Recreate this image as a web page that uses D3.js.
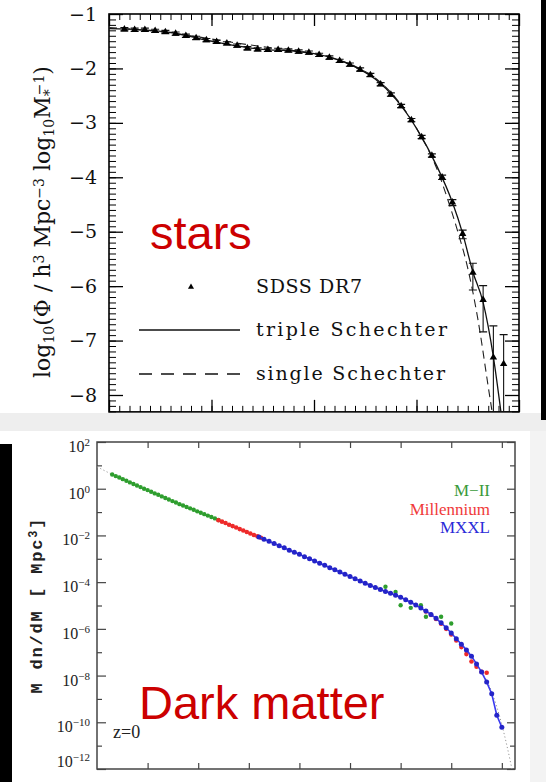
<!DOCTYPE html>
<html>
<head>
<meta charset="utf-8">
<script src="https://cdn.jsdelivr.net/npm/d3@7"></script>
<style>
  body { margin: 0; background: #fff; }
  svg { display: block; }
</style>
</head>
<body>
<svg id="chart" width="546" height="782"></svg>
<script>
// ---------- top panel: stellar mass function (log10 M*, log10 Phi)
let sdssMass = [8.15, 8.25, 8.35, 8.45, 8.55, 8.65, 8.75, 8.85, 8.95, 9.05, 9.15, 9.25, 9.35, 9.45, 9.55, 9.65, 9.75, 9.85, 9.95,
  10.05, 10.15, 10.25, 10.35, 10.45, 10.55, 10.65, 10.75, 10.85, 10.95, 11.05, 11.15, 11.25, 11.35, 11.45, 11.55, 11.65, 11.75, 11.85]
let sdssPhi = [-1.28, -1.29, -1.29, -1.31, -1.33, -1.36, -1.40, -1.44, -1.48, -1.51, -1.54, -1.58, -1.63, -1.65, -1.66, -1.66, -1.67, -1.69, -1.71,
  -1.75, -1.80, -1.86, -1.93, -2.02, -2.12, -2.29, -2.48, -2.69, -2.95, -3.26, -3.60, -4.00, -4.46, -5.04, -5.75, -6.25, -7.31, -7.43]
let sdssErrUp = [0.03, 0.03, 0.03, 0.03, 0.03, 0.03, 0.03, 0.03, 0.03, 0.03, 0.03, 0.03, 0.03, 0.03, 0.03, 0.03, 0.03, 0.03, 0.03,
  0.03, 0.03, 0.03, 0.03, 0.03, 0.03, 0.03, 0.03, 0.03, 0.03, 0.03, 0.03, 0.04, 0.05, 0.07, 0.17, 0.26, 0.58, 0.54]
let sdssErrDn = [0.03, 0.03, 0.03, 0.03, 0.03, 0.03, 0.03, 0.03, 0.03, 0.03, 0.03, 0.03, 0.03, 0.03, 0.03, 0.03, 0.03, 0.03, 0.03,
  0.03, 0.03, 0.03, 0.03, 0.03, 0.03, 0.03, 0.03, 0.03, 0.03, 0.03, 0.03, 0.04, 0.06, 0.09, 0.32, 0.59, 3.0, 3.0]

let tripleMass = [8.0, 8.3, 8.6, 8.9, 9.2, 9.5, 9.8, 10.0, 10.2, 10.4, 10.6, 10.8, 11.0, 11.2, 11.35, 11.45, 11.55, 11.65, 11.75, 11.83, 11.9]
let triplePhi = [-1.27, -1.29, -1.34, -1.46, -1.57, -1.65, -1.68, -1.73, -1.82, -1.97, -2.20, -2.57, -3.10, -3.80, -4.46, -5.03, -5.74, -6.30, -7.30, -8.40, -9.4]

let singleMass = [8.0, 8.3, 8.6, 8.9, 9.2, 9.5, 9.8, 10.0, 10.2, 10.4, 10.6, 10.8, 11.0, 11.2, 11.3, 11.4, 11.5, 11.6, 11.7, 11.75, 11.8]
let singlePhi = [-1.25, -1.29, -1.35, -1.43, -1.52, -1.60, -1.67, -1.73, -1.82, -1.96, -2.18, -2.55, -3.10, -3.85, -4.38, -4.98, -5.67, -6.62, -7.85, -8.47, -9.2]

let starYTicks = [-1, -2, -3, -4, -5, -6, -7, -8]
let starXTicks = [8, 9, 10, 11, 12]

// ---------- bottom panel: halo mass function (log10 M, log10 M dn/dM)
let m2Mass = [7.30, 7.37, 7.44, 7.51, 7.58, 7.65, 7.72, 7.79, 7.86, 7.93, 8.00, 8.07, 8.14, 8.21, 8.28, 8.35,
  8.42, 8.49, 8.56, 8.63, 8.70, 8.77, 8.84, 8.91, 8.98, 9.05, 9.12, 9.19, 9.26, 9.33, 9.40,
  12.7, 12.9, 13.0, 13.2, 13.4, 13.5, 13.8, 14.0]
let m2Val = [0.61, 0.54, 0.48, 0.41, 0.34, 0.27, 0.20, 0.14, 0.07, 0.00, -0.06, -0.13, -0.20, -0.26, -0.33, -0.40,
  -0.46, -0.53, -0.59, -0.66, -0.72, -0.78, -0.84, -0.90, -0.97, -1.03, -1.09, -1.15, -1.21, -1.27, -1.34,
  -4.20, -4.42, -4.99, -5.10, -4.99, -5.48, -5.48, -5.77]

let milMass = [9.40, 9.47, 9.54, 9.61, 9.68, 9.75, 9.82, 9.89, 9.96, 10.03, 10.10, 10.17, 10.24,
  13.5, 13.6, 13.7, 13.8, 13.9, 14.0, 14.1, 14.2, 14.3, 14.4, 14.5, 14.6, 14.7]
let milVal = [-1.35, -1.41, -1.47, -1.54, -1.60, -1.66, -1.73, -1.79, -1.85, -1.92, -1.98, -2.04, -2.10,
  -5.26, -5.40, -5.58, -5.78, -6.00, -6.24, -6.50, -6.78, -7.08, -7.40, -7.62, -7.84, -7.88]

let mxxlMass = [10.2, 10.3, 10.4, 10.5, 10.6, 10.7, 10.8, 10.9, 11.0, 11.1, 11.2, 11.3, 11.4, 11.5, 11.6, 11.7, 11.8, 11.9,
  12.0, 12.1, 12.2, 12.3, 12.4, 12.5, 12.6, 12.7, 12.8, 12.9, 13.0, 13.1, 13.2, 13.3, 13.4, 13.5, 13.6, 13.7, 13.8, 13.9,
  14.0, 14.1, 14.2, 14.3, 14.4, 14.5, 14.6, 14.7, 14.8, 14.9, 15.0]
let mxxlVal = [-2.07, -2.16, -2.25, -2.35, -2.44, -2.53, -2.63, -2.72, -2.81, -2.91, -3.00, -3.09, -3.19, -3.28, -3.38, -3.47, -3.57, -3.66,
  -3.76, -3.86, -3.95, -4.05, -4.14, -4.23, -4.32, -4.40, -4.48, -4.56, -4.65, -4.75, -4.86, -4.98, -5.11, -5.24, -5.38, -5.55, -5.74, -5.95,
  -6.18, -6.42, -6.66, -6.90, -7.17, -7.50, -7.85, -8.28, -8.78, -9.70, -10.21]

let modelMass = [7.0, 7.3, 8.0, 9.0, 10.0, 11.0, 12.0, 13.0, 14.0, 14.5, 14.8, 15.0, 15.1, 15.2, 15.26]
let modelVal = [0.94, 0.61, -0.06, -0.97, -1.88, -2.81, -3.76, -4.65, -6.18, -7.50, -8.70, -10.10, -11.0, -12.0, -12.6]

let haloYTicks = [2, 1, 0, -1, -2, -3, -4, -5, -6, -7, -8, -9, -10, -11, -12]
let haloXTicks = [8, 9, 10, 11, 12, 13, 14, 15]

let legendNames = ["M\u2212II", "Millennium", "MXXL"]
let legendColors = ["#3a9a3a", "#f03a3a", "#2a2ad8"]

let zip = (a, b) => a.map((d, i) => [d, b[i]])

let svg = d3.select("#chart")

function drawBackground() {
  svg.append("rect").attr("width", 546).attr("height", 782).attr("fill", "#fff")
  svg.append("rect").attr("x", 0).attr("y", 413).attr("width", 546).attr("height", 18).attr("fill", "#eeeeee")
  svg.append("rect").attr("x", 530).attr("y", 431).attr("width", 16).attr("height", 351).attr("fill", "#f3f3f3")
  svg.append("rect").attr("x", 541).attr("y", 0).attr("width", 5).attr("height", 420).attr("fill", "#000")
  svg.append("rect").attr("x", 0).attr("y", 444).attr("width", 12).attr("height", 338).attr("fill", "#000")
}

function ticks(axisFn, scale, values, size, x, y, color, width) {
  let g = svg.append("g").attr("transform", `translate(${x},${y})`)
    .call(axisFn(scale).tickValues(values).tickSize(-size).tickFormat(""))
  g.select(".domain").remove()
  g.selectAll("line").attr("stroke", color).attr("stroke-width", width)
  return g
}

function drawStars() {
  let x = d3.scaleLinear().domain([8, 12]).range([109, 519])
  let y = d3.scaleLinear().domain([-1, -8]).range([14, 395])
  let left = x(8), right = x(12), top = y(-1), bottom = y(-8.31)

  svg.append("clipPath").attr("id", "clipTop").append("rect")
    .attr("x", left).attr("y", top).attr("width", right - left).attr("height", bottom - top)

  // minor + major ticks on all four sides
  let minorY = d3.range(-83, -9).map(d => d / 10)
  let minorX = d3.range(80, 121).map(d => d / 10)
  ticks(d3.axisLeft, y, minorY, 7, left, 0, "#000", 1)
  ticks(d3.axisRight, y, minorY, 7, right, 0, "#000", 1)
  ticks(d3.axisLeft, y, starYTicks, 14, left, 0, "#000", 1.3)
  ticks(d3.axisRight, y, starYTicks, 14, right, 0, "#000", 1.3)
  ticks(d3.axisTop, x, minorX, 6, 0, top, "#000", 1)
  ticks(d3.axisBottom, x, minorX, 6, 0, bottom, "#000", 1)
  ticks(d3.axisTop, x, starXTicks, 12, 0, top, "#000", 1.3)
  ticks(d3.axisBottom, x, starXTicks, 12, 0, bottom, "#000", 1.3)

  let labels = svg.append("g").attr("transform", `translate(${left},0)`)
    .call(d3.axisLeft(y).tickValues(starYTicks).tickSize(0).tickPadding(12)
      .tickFormat(d => "\u2212" + Math.abs(d)))
  labels.select(".domain").remove()
  labels.selectAll("text").attr("font-family", "DejaVu Serif").attr("font-size", 19).attr("fill", "#111")

  svg.append("rect").attr("x", left).attr("y", top).attr("width", right - left).attr("height", bottom - top)
    .attr("fill", "none").attr("stroke", "#000").attr("stroke-width", 1.6)

  let plot = svg.append("g").attr("clip-path", "url(#clipTop)")
  let line = d3.line().x(d => x(d[0])).y(d => y(d[1])).curve(d3.curveMonotoneX)

  plot.append("path").datum(zip(singleMass, singlePhi)).attr("d", line)
    .attr("fill", "none").attr("stroke", "#222").attr("stroke-width", 1.1).attr("stroke-dasharray", "8,5")
  plot.append("path").datum(zip(tripleMass, triplePhi)).attr("d", line)
    .attr("fill", "none").attr("stroke", "#111").attr("stroke-width", 1.3)

  let pts = sdssMass.map((m, i) => ({ m, v: sdssPhi[i], up: sdssErrUp[i], dn: sdssErrDn[i] }))
  let err = plot.selectAll(".err").data(pts).enter().append("g").attr("class", "err")
    .attr("stroke", "#111").attr("stroke-width", 1.1)
  err.append("line").attr("x1", d => x(d.m)).attr("x2", d => x(d.m))
    .attr("y1", d => y(d.v + d.up)).attr("y2", d => y(d.v - d.dn))
  err.append("line").attr("x1", d => x(d.m) - 4).attr("x2", d => x(d.m) + 4)
    .attr("y1", d => y(d.v + d.up)).attr("y2", d => y(d.v + d.up))
  err.append("line").attr("x1", d => x(d.m) - 4).attr("x2", d => x(d.m) + 4)
    .attr("y1", d => y(d.v - d.dn)).attr("y2", d => y(d.v - d.dn))

  let tri = d3.symbol(d3.symbolTriangle).size(24)
  plot.selectAll(".tri").data(pts).enter().append("path")
    .attr("d", tri).attr("transform", d => `translate(${x(d.m)},${y(d.v)})`).attr("fill", "#000")

  // legend
  let serif = "DejaVu Serif"
  svg.append("path").attr("d", d3.symbol(d3.symbolTriangle).size(16))
    .attr("transform", "translate(191,287)").attr("fill", "#000")
  svg.append("text").attr("x", 256).attr("y", 293).attr("font-family", serif).attr("font-size", 19)
    .attr("textLength", 106).attr("lengthAdjust", "spacing").attr("fill", "#111").text("SDSS DR7")
  svg.append("line").attr("x1", 139).attr("x2", 240).attr("y1", 330).attr("y2", 330)
    .attr("stroke", "#111").attr("stroke-width", 1.3)
  svg.append("text").attr("x", 256).attr("y", 336).attr("font-family", serif).attr("font-size", 19)
    .attr("textLength", 191).attr("lengthAdjust", "spacing").attr("fill", "#111").text("triple Schechter")
  svg.append("line").attr("x1", 139).attr("x2", 240).attr("y1", 374).attr("y2", 374)
    .attr("stroke", "#111").attr("stroke-width", 1.3).attr("stroke-dasharray", "13,9")
  svg.append("text").attr("x", 256).attr("y", 380).attr("font-family", serif).attr("font-size", 19)
    .attr("textLength", 189).attr("lengthAdjust", "spacing").attr("fill", "#111").text("single Schechter")

  // y title
  let title = svg.append("text").attr("transform", "translate(50,222) rotate(-90)")
    .attr("text-anchor", "middle").attr("font-family", serif).attr("font-size", 22).attr("fill", "#111")
  let parts = [["log", 0], ["10", -1], ["(\u03A6 / h", 0], ["3", 1], [" Mpc", 0], ["\u22123", 1],
    [" log", 0], ["10", -1], ["M", 0], ["*", -1], ["\u22121", 2], [")", 0]]
  parts.forEach(([t, k]) => {
    let s = title.append("tspan").text(t)
    if (k === -1) s.attr("font-size", 14).attr("baseline-shift", "-30%")
    if (k === 1) s.attr("font-size", 14).attr("baseline-shift", "45%")
    if (k === 2) s.attr("font-size", 14).attr("baseline-shift", "45%").attr("dx", -6)
  })

  svg.append("text").attr("x", 150).attr("y", 249).attr("font-family", "Liberation Sans, Arial, sans-serif")
    .attr("font-size", 47).attr("fill", "#cc0000").text("stars")
}

function drawHalos() {
  let x = d3.scaleLinear().domain([7, 15.26]).range([97, 515])
  let y = d3.scaleLinear().domain([2, -12]).range([442, 769])
  let left = 97, right = 515, top = 442, bottom = 769
  let frame = "#444"

  svg.append("clipPath").attr("id", "clipBot").append("rect")
    .attr("x", left).attr("y", top).attr("width", right - left).attr("height", bottom - top)

  let even = haloYTicks.filter(d => d % 2 === 0)
  let odd = haloYTicks.filter(d => d % 2 !== 0)
  ticks(d3.axisLeft, y, even, 9, left, 0, frame, 1.2)
  ticks(d3.axisLeft, y, odd, 5, left, 0, frame, 1.2)
  ticks(d3.axisRight, y, even, 8, right, 0, frame, 1.2)
  ticks(d3.axisRight, y, odd, 5, right, 0, frame, 1.2)
  ticks(d3.axisTop, x, haloXTicks, 6, 0, top, frame, 1.2)
  ticks(d3.axisBottom, x, haloXTicks, 6, 0, bottom, frame, 1.2)

  let lab = svg.selectAll(".hlab").data(even).enter().append("text").attr("class", "hlab")
    .attr("x", 90).attr("y", d => Math.min(y(d) + 10, 767)).attr("text-anchor", "end")
    .attr("font-family", "Liberation Serif, serif").attr("font-size", 16).attr("fill", "#222")
  lab.append("tspan").text("10")
  lab.append("tspan").attr("font-size", 11).attr("baseline-shift", "55%")
    .text(d => d < 0 ? "\u2212" + Math.abs(d) : String(d))

  svg.append("rect").attr("x", left).attr("y", top).attr("width", right - left).attr("height", bottom - top)
    .attr("fill", "none").attr("stroke", frame).attr("stroke-width", 1.5)

  let plot = svg.append("g").attr("clip-path", "url(#clipBot)")
  let line = d3.line().x(d => x(d[0])).y(d => y(d[1])).curve(d3.curveMonotoneX)

  plot.append("path").datum(zip(modelMass, modelVal)).attr("d", line)
    .attr("fill", "none").attr("stroke", "#999").attr("stroke-width", 1).attr("stroke-dasharray", "1.2,2.4")

  let dots = (mass, val, color, r) => plot.append("g").selectAll("circle").data(zip(mass, val)).enter()
    .append("circle").attr("cx", d => x(d[0])).attr("cy", d => y(d[1])).attr("r", r).attr("fill", color)

  dots(m2Mass, m2Val, "#2e9e2e", 2.2)
  dots(milMass, milVal, "#ee2a2a", 2.3)
  plot.append("path").datum(zip(mxxlMass, mxxlVal)).attr("d", d3.line().x(d => x(d[0])).y(d => y(d[1])))
    .attr("fill", "none").attr("stroke", "#3a3af0").attr("stroke-width", 1.6)
  dots(mxxlMass, mxxlVal, "#2424c8", 2.5)

  svg.selectAll(".hleg").data(legendNames).enter().append("text").attr("class", "hleg")
    .attr("x", 490).attr("y", (d, i) => 496 + i * 18.5).attr("text-anchor", "end")
    .attr("font-family", "Liberation Serif, serif").attr("font-size", 17)
    .attr("fill", (d, i) => legendColors[i]).text(d => d)

  svg.append("text").attr("x", 113).attr("y", 738).attr("font-family", "Liberation Serif, serif")
    .attr("font-size", 18).attr("fill", "#222").text("z=0")

  let yt = svg.append("text").attr("transform", "translate(42,606) rotate(-90)").attr("text-anchor", "middle")
    .attr("font-family", "Liberation Mono, monospace").attr("font-size", 17).attr("font-weight", "bold")
    .attr("fill", "#222").attr("textLength", 175).attr("lengthAdjust", "spacing")
  yt.append("tspan").text("M dn/dM [ Mpc")
  yt.append("tspan").attr("font-size", 12).attr("baseline-shift", "45%").text("3")
  yt.append("tspan").text("]")

  svg.append("text").attr("x", 139).attr("y", 719).attr("font-family", "Liberation Sans, Arial, sans-serif")
    .attr("font-size", 47).attr("fill", "#cc0000").text("Dark matter")
}

drawBackground()
drawStars()
drawHalos()
</script>
</body>
</html>
